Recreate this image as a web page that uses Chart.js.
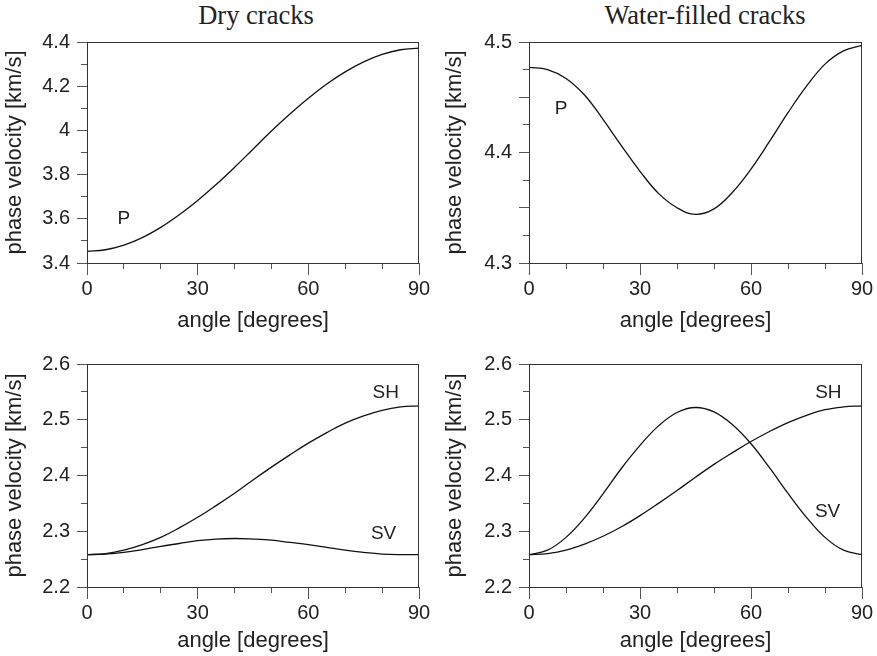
<!DOCTYPE html>
<html>
<head>
<meta charset="utf-8">
<script src="https://cdn.jsdelivr.net/npm/chart.js@4/dist/chart.umd.min.js"></script>
<style>
  body { margin: 0; background: #fff; width: 877px; height: 656px; position: relative; overflow: hidden; }
  canvas { position: absolute; }
  .head { position: absolute; top: 2px; width: 300px; text-align: center;
          font: 26.5px "Liberation Serif", "Times New Roman", serif; line-height: 26px; color: #222; }
</style>
</head>
<body>
<div class="head" style="left:106px">Dry cracks</div>
<div class="head" style="left:555px">Water-filled cracks</div>
<canvas id="dryP" width="440" height="335" style="left:0;top:0"></canvas>
<canvas id="wetP" width="437" height="335" style="left:440px;top:0"></canvas>
<canvas id="dryS" width="440" height="321" style="left:0;top:335px"></canvas>
<canvas id="wetS" width="437" height="321" style="left:440px;top:335px"></canvas>
<script>
// angle of incidence, degrees
const angles = [0, 5, 10, 15, 20, 25, 30, 35, 40, 45, 50, 55, 60, 65, 70, 75, 80, 85, 90];

// phase velocities, km/s
const dryP = [3.453, 3.460, 3.481, 3.515, 3.561, 3.618, 3.683, 3.755, 3.833, 3.915,
  3.997, 4.074, 4.145, 4.210, 4.265, 4.310, 4.344, 4.365, 4.372];
const wetP = [4.477, 4.475, 4.467, 4.452, 4.430, 4.406, 4.383, 4.363, 4.350, 4.344,
  4.349, 4.364, 4.385, 4.410, 4.436, 4.460, 4.480, 4.492, 4.497];
const drySH = [2.258, 2.260, 2.266, 2.276, 2.289, 2.306, 2.325, 2.346, 2.368, 2.392,
  2.415, 2.437, 2.458, 2.477, 2.494, 2.507, 2.517, 2.523, 2.525];
const drySV = [2.258, 2.259, 2.262, 2.267, 2.273, 2.278, 2.283, 2.286, 2.287, 2.286,
  2.284, 2.280, 2.276, 2.271, 2.266, 2.262, 2.259, 2.258, 2.258];
const wetSH = [2.258, 2.260, 2.266, 2.277, 2.291, 2.308, 2.328, 2.350, 2.373, 2.397,
  2.420, 2.441, 2.461, 2.479, 2.495, 2.508, 2.518, 2.523, 2.525];
const wetSV = [2.258, 2.266, 2.289, 2.324, 2.367, 2.413, 2.454, 2.489, 2.513, 2.522,
  2.514, 2.491, 2.457, 2.414, 2.368, 2.325, 2.289, 2.266, 2.258];

// curve labels: [text, angle, velocity]
const dryPNotes = [["P", 10, 3.6]];
const wetPNotes = [["P", 8.7, 4.44]];
const drySNotes = [["SH", 81, 2.549], ["SV", 80.4, 2.295]];
const wetSNotes = [["SH", 80.9, 2.549], ["SV", 80.7, 2.335]];

const xTitle = "angle [degrees]";
const yTitle = "phase velocity [km/s]";

Chart.defaults.font.family = '"Liberation Sans", Arial, sans-serif';
Chart.defaults.color = "#222";

const frame = {
  id: "frame",
  afterDraw(chart) {
    const a = chart.chartArea, ctx = chart.ctx;
    ctx.save();
    ctx.strokeStyle = "#333";
    ctx.lineWidth = 1;
    ctx.strokeRect(a.left + 0.5, a.top + 0.5, a.right - a.left - 1, a.bottom - a.top);
    ctx.restore();
  }
};

const notes = {
  id: "notes",
  afterDatasetsDraw(chart, args, opts) {
    const ctx = chart.ctx;
    ctx.save();
    ctx.font = '19px "Liberation Sans", Arial, sans-serif';
    ctx.fillStyle = "#222";
    ctx.textAlign = "center";
    ctx.textBaseline = "middle";
    opts.items.forEach(n => {
      ctx.fillText(n[0], chart.scales.x.getPixelForValue(n[1]), chart.scales.y.getPixelForValue(n[2]));
    });
    ctx.restore();
  }
};

function line(values) {
  return {
    data: angles.map((a, i) => ({ x: a, y: values[i] })),
    borderColor: "#111",
    borderWidth: 1.3,
    pointRadius: 0,
    tension: 0.4,
    fill: false
  };
}

// g: canvas box and plot area in page pixels
function panel(id, series, items, y, g) {
  new Chart(document.getElementById(id), {
    type: "line",
    data: { datasets: series.map(line) },
    options: {
      responsive: false,
      animation: false,
      layout: { padding: { top: g.top - g.cy, right: g.cx + g.cw - g.right, left: 0, bottom: 0 } },
      plugins: { legend: { display: false }, tooltip: { enabled: false }, notes: { items: items } },
      scales: {
        x: {
          type: "linear", min: 0, max: 90,
          border: { display: false },
          grid: {
            drawOnChartArea: false, tickLength: 12, tickColor: "#555",
            tickBorderDash: c => (c.tick && c.tick.value % 30 !== 0) ? [6, 100] : []
          },
          ticks: {
            stepSize: 10, autoSkip: false, maxRotation: 0, padding: 2,
            font: { size: 20 },
            callback: v => (v % 30 === 0 ? v : "")
          },
          title: { display: true, text: xTitle, font: { size: 22 }, padding: { top: 0, bottom: g.tb } },
          afterFit: s => { s.height = g.cy + g.ch - g.bottom; }
        },
        y: {
          min: y.min, max: y.max,
          border: { display: false },
          grid: {
            drawOnChartArea: false, tickLength: 10, tickColor: "#555",
            tickBorderDash: c => (c.index % y.long !== 0) ? [0, 4, 6, 100] : []
          },
          ticks: {
            stepSize: y.step, autoSkip: false, padding: 7,
            font: { size: 20 },
            callback: (v, i) => (i % y.label === 0 ? String(Number(v.toFixed(2))) : "")
          },
          title: { display: true, text: yTitle, font: { size: 22 }, padding: { top: 2, bottom: 0 } },
          afterFit: s => { s.width = g.left - g.cx; }
        }
      }
    },
    plugins: [frame, notes]
  });
}

panel("dryP", [dryP], dryPNotes, { min: 3.4, max: 4.4, step: 0.1, long: 2, label: 2 },
  { cx: 0, cy: 0, cw: 440, ch: 335, left: 87, right: 419, top: 42, bottom: 263, tb: 1 });
panel("wetP", [wetP], wetPNotes, { min: 4.3, max: 4.5, step: 0.025, long: 2, label: 4 },
  { cx: 440, cy: 0, cw: 437, ch: 335, left: 529, right: 862, top: 42, bottom: 263, tb: 1 });
panel("dryS", [drySH, drySV], drySNotes, { min: 2.2, max: 2.6, step: 0.05, long: 2, label: 2 },
  { cx: 0, cy: 335, cw: 440, ch: 321, left: 87, right: 419, top: 364, bottom: 587, tb: 2 });
panel("wetS", [wetSH, wetSV], wetSNotes, { min: 2.2, max: 2.6, step: 0.05, long: 2, label: 2 },
  { cx: 440, cy: 335, cw: 437, ch: 321, left: 529, right: 862, top: 364, bottom: 587, tb: 2 });
</script>
</body>
</html>
